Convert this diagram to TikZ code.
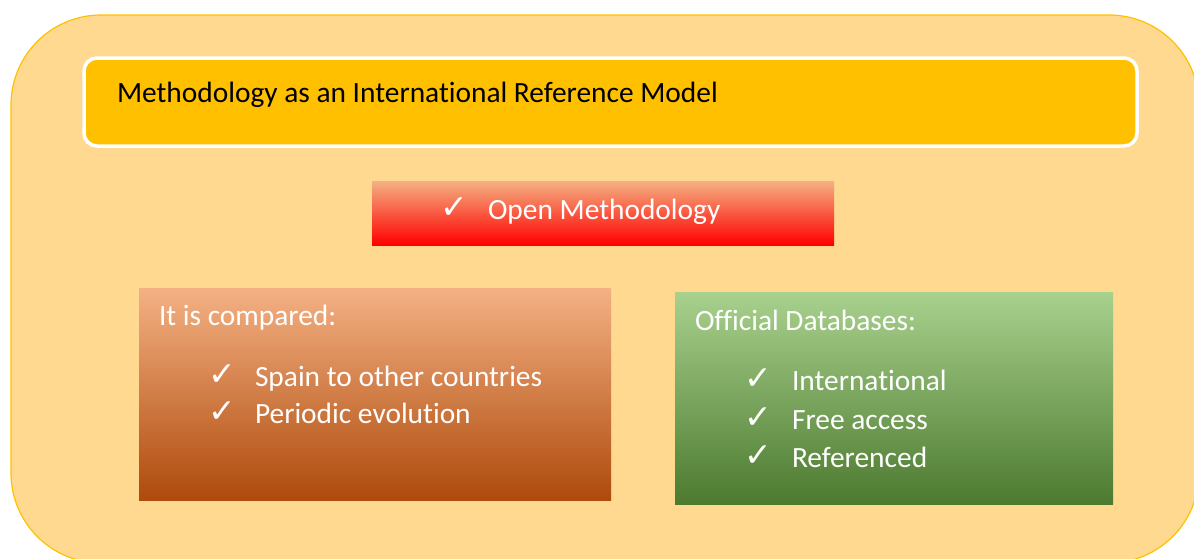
\documentclass[tikz,border=0pt]{standalone}
\usepackage{fontspec}
\setmainfont{Carlito}[Ligatures=NoCommon]
\newfontfamily\ticksym{DejaVu Sans}

\definecolor{frameFill}{HTML}{FFD98F}
\definecolor{gold}{HTML}{FFC000}
\definecolor{peach}{HTML}{F4B183}
\definecolor{orng}{HTML}{ED7D31}
\definecolor{rust}{HTML}{AE4A0C}
\definecolor{lgreen}{HTML}{A9D18E}
\definecolor{mgreen}{HTML}{70AD47}
\definecolor{dgreen}{HTML}{4C7A2F}

\newcommand{\tick}{{\ticksym\fontsize{33}{33}\selectfont ✓}}

\begin{document}
\begin{tikzpicture}[x=1pt,y=-1pt,
              every node/.style={inner sep=0pt,outer sep=0pt},
              box/.style={rectangle,minimum width=#1},
              label/.style={anchor=base west,font=\fontsize{29.4}{33}\selectfont},
              onbox/.style={label,text=white}]
    \useasboundingbox (0,0) rectangle (1194,558);
    \clip (0,0) rectangle (1194,558);

    % background frame and heading bar
    \node[box=1188,minimum height=548,rounded corners=90,
          fill=frameFill,draw=gold,line width=1.2] (frame) at (605,289) {};
    \node[box=1053,minimum height=88,rounded corners=13,
          fill=gold,draw=white,line width=3.5] (head) at (610.5,102) {};
    \node[label] (headtxt) at (117,102) {Methodology as an International Reference Model};

    % open methodology bar
    \node[box=462,minimum height=64,top color=peach,middle color=orng,
          bottom color=red] (open) at (603,213) {};
    \node[onbox] (opentick) at (440,218) {\tick};
    \node[onbox] (opentxt) at (488,219) {Open Methodology};

    % comparison panel
    \node[box=472,minimum height=212,top color=peach,middle color=orng,
          bottom color=rust] (cmp) at (375,394) {};
    \node[onbox] (cmphead) at (159,325) {It is compared:};
    \node[onbox] (cmptick1) at (208,385) {\tick};
    \node[onbox] (cmptxt1) at (255,386) {Spain to other countries};
    \node[onbox] (cmptick2) at (208,422) {\tick};
    \node[onbox] (cmptxt2) at (255,423) {Periodic evolution};

    % databases panel
    \node[box=438,minimum height=212,top color=lgreen,middle color=mgreen,
          bottom color=dgreen] (dbs) at (894,398) {};
    \node[onbox] (dbshead) at (695,330) {Official Databases:};
    \foreach \yy/\txt [count=\i] in {390/International,429/Free access,467/Referenced} {
        \node[onbox] (dbstick\i) at (744,\yy-1) {\tick};
        \node[onbox] (dbstxt\i) at (792,\yy) {\txt};
    }
\end{tikzpicture}
\end{document}
